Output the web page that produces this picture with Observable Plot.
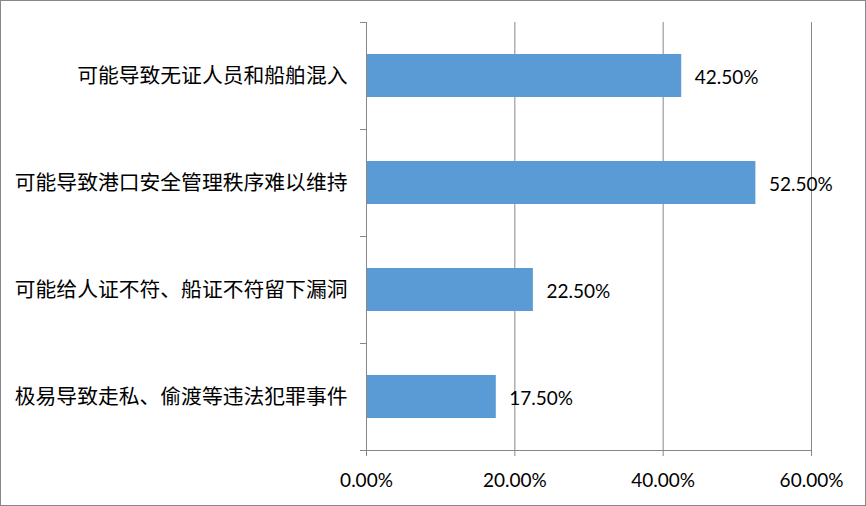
<!DOCTYPE html>
<html>
<head>
<meta charset="utf-8">
<script src="https://cdn.jsdelivr.net/npm/d3@7"></script>
<script src="https://cdn.jsdelivr.net/npm/@observablehq/plot@0.6"></script>
<style>
  html, body { margin: 0; padding: 0; background: #fff; }
  #chart svg { display: block; outline: 1px solid #888; outline-offset: -1px; }
</style>
</head>
<body>
<div id="chart"></div>
<script>
const categories = [
  "可能导致无证人员和船舶混入",
  "可能导致港口安全管理秩序难以维持",
  "可能给人证不符、船证不符留下漏洞",
  "极易导致走私、偷渡等违法犯罪事件"
];
const values = [42.5, 52.5, 22.5, 17.5];
const xTicks = [0, 20, 40, 60];

const data = categories.map((c, i) => ({category: c, value: values[i]}));
const gray = "#888888";
const step = (450 - 22) / categories.length;
const latin = "Lato, 'Open Sans', sans-serif";

const chart = Plot.plot({
  width: 866,
  height: 506,
  marginLeft: 366,
  marginRight: 55,
  marginTop: 22,
  marginBottom: 56,
  style: {background: "#fff", overflow: "visible"},
  x: {domain: [0, 60]},
  y: {domain: categories, paddingInner: 0.6, paddingOuter: 0.3},
  marks: [
    Plot.gridX(xTicks.slice(1), {stroke: gray, strokeOpacity: 1}),
    Plot.barX(data, {y: "category", x: "value", fill: "#5B9BD5"}),
    Plot.ruleX([0], {stroke: gray}),
    Plot.ruleY(data, {y: "category", x1: 0, x2: 0, insetLeft: -6, dy: -step / 2, stroke: gray}),
    Plot.ruleY(data.slice(-1), {y: "category", x1: 0, x2: 60, insetLeft: -6, dy: step / 2, stroke: gray}),
    Plot.axisX(xTicks, {
      tickSize: 6, tickPadding: 17, stroke: gray,
      tickFormat: d => d.toFixed(2) + "%",
      fontSize: 19, fontFamily: latin, fill: "#000", label: null
    }),
    Plot.axisY({
      tickSize: 0, tickPadding: 19,
      fontSize: 20.8, fontFamily: "'Noto Sans CJK SC', sans-serif", fill: "#000", label: null
    }),
    Plot.text(data, {
      y: "category", x: "value", text: d => d.value.toFixed(2) + "%",
      textAnchor: "start", dx: 13, dy: 2, fontSize: 19,
      fontFamily: latin, fill: "#000"
    })
  ]
});
document.getElementById("chart").append(chart);
</script>
</body>
</html>
